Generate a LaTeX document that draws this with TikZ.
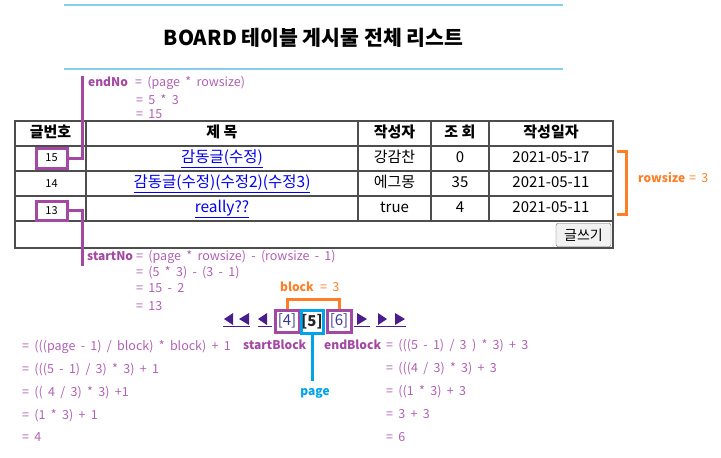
\documentclass[tikz,border=0pt]{standalone}
\usepackage{fontspec}
\setmainfont{Noto Sans CJK KR}
\newfontfamily\formfont[WordSpace=1.9]{Noto Sans CJK KR}
\definecolor{ppl}{HTML}{A349A4}
\definecolor{pplt}{HTML}{B060B4}
\definecolor{org}{HTML}{FF7F27}
\definecolor{sky}{HTML}{00A2E8}
\definecolor{ttl}{HTML}{87CEEB}
\definecolor{gridc}{HTML}{4D4D4D}
\definecolor{lnk}{HTML}{0000EE}
\definecolor{nav}{HTML}{4B1C8C}
\definecolor{pnum}{HTML}{3A3A8C}
\begin{document}
\begin{tikzpicture}[x=1pt,y=-1pt,
  ftxt/.style={font=\formfont\fontsize{12.5}{14}\selectfont, text=pplt, inner sep=0, anchor=west, text height=9pt, text depth=3pt},
  flbl/.style={font=\fontsize{12}{14}\selectfont\bfseries, text=ppl, inner sep=0, anchor=west, text height=9pt, text depth=3pt},
  cell/.style={font=\fontsize{15}{18}\selectfont, inner sep=0, text height=11pt, text depth=3pt},
  hcell/.style={cell, font=\fontsize{15}{18}\selectfont\bfseries},
  lcell/.style={cell, text=lnk, font=\fontsize{15.5}{18}\selectfont},
  pbox/.style={draw=ppl, line width=3pt, inner sep=0},
  pline/.style={ppl, line width=3pt},
  oline/.style={org, line width=3pt},
  bline/.style={sky, line width=3pt},
  gline/.style={gridc, line width=1.5pt},
  navtri/.style={fill=nav},
  navul/.style={nav, line width=1pt}
]
\useasboundingbox (0,0) rectangle (721,458);
% title
\draw[ttl, line width=2pt] (64,5) -- (563,5);
\draw[ttl, line width=2pt] (64,69) -- (563,69);
\node[font=\fontsize{20.5}{24}\selectfont\bfseries, inner sep=0] (title) at (313.5,38) {BOARD 테이블 게시물 전체 리스트};

% table grid
\draw[gline] (15,121) rectangle (613,248);
\draw[gline] (15,146) -- (613,146);
\draw[gline] (15,171) -- (613,171);
\draw[gline] (15,196) -- (613,196);
\draw[gline] (15,221) -- (613,221);
\foreach \cx in {86,358,431,489} { \draw[gline] (\cx,121) -- (\cx,221); }

% header
\node[hcell] (h1) at (50.5,133.5) {글번호};
\node[hcell] (h2) at (222,133.5) {제 목};
\node[hcell] (h3) at (394.5,133.5) {작성자};
\node[hcell] (h4) at (460,133.5) {조 회};
\node[hcell] (h5) at (551,133.5) {작성일자};
% rows
\node[pbox, minimum width=31pt, minimum height=20pt, font=\fontsize{11}{13}\selectfont] (b15) at (51.5,158) {15};
\node[lcell] (t1) at (222,158.5) {\underline{감동글(수정)}};
\node[cell] (w1) at (394.5,158.5) {강감찬};
\node[cell] (v1) at (460,158.5) {0};
\node[cell] (d1) at (551,158.5) {2021-05-17};

\node[font=\fontsize{11}{13}\selectfont, inner sep=0] (n14) at (51.5,183.5) {14};
\node[lcell] (t2) at (222,183.5) {\underline{감동글(수정)(수정2)(수정3)}};
\node[cell] (w2) at (394.5,183.5) {에그몽};
\node[cell] (v2) at (460,183.5) {35};
\node[cell] (d2) at (551,183.5) {2021-05-11};

\node[pbox, minimum width=31pt, minimum height=19pt, font=\fontsize{11}{13}\selectfont] (b13) at (51.5,210.5) {13};
\node[lcell] (t3) at (222,208.5) {\underline{really??}};
\node[cell] (w3) at (394.5,208.5) {true};
\node[cell] (v3) at (460,208.5) {4};
\node[cell] (d3) at (551,208.5) {2021-05-11};

\node[draw=gray!75!black, fill=gray!10, rounded corners=2pt, minimum width=55pt, minimum height=23pt, inner sep=0, font=\fontsize{14}{16}\selectfont] (btn) at (583.5,235) {글쓰기};

% endNo
\coordinate (endtop) at (82,76);
\draw[pline] (b15.east) -| (endtop);
\node[flbl] (endNo) at (88,83) {endNo};
\node[ftxt] (endNo1) at (135,83) {= (page * rowsize)};
\node[ftxt] (endNo2) at (136,101) {= 5 * 3};
\node[ftxt] (endNo3) at (136,115) {= 15};

% startNo
\coordinate (startbot) at (82,266);
\draw[pline] (b13.east) -| (startbot);
\node[flbl] (startNo) at (87,257) {startNo};
\node[ftxt] (startNo1) at (136,257) {= (page * rowsize) - (rowsize - 1)};
\node[ftxt] (startNo2) at (136,273) {= (5 * 3) - (3 - 1)};
\node[ftxt] (startNo3) at (136,289) {= 15 - 2};
\node[ftxt] (startNo4) at (136,307) {= 13};

% rowsize bracket
\coordinate (rs1) at (617,151);
\coordinate (rs2) at (617,214);
\draw[oline] (rs1) -- (626,151) -- (626,214) -- (rs2);
\node[flbl, text=org] (rowsize) at (638,179) {rowsize};
\node[ftxt, text=org] (rowsizev) at (689,179) {= 3};

% pager
\fill[navtri] (224,319) -- (233,313) -- (233,325) -- cycle;
\fill[navtri] (239,319) -- (249,313) -- (249,325) -- cycle;
\draw[navul] (223,326) -- (250,326);
\fill[navtri] (258,319) -- (267,313) -- (267,325) -- cycle;
\draw[navul] (258,326) -- (272,326);
\node[pbox, minimum width=24pt, minimum height=22pt, font=\fontsize{15}{18}\selectfont, text=pnum] (p4) at (287,321) {[4]};
\node[draw=sky, line width=3pt, inner sep=0, minimum width=22pt, minimum height=23pt, font=\fontsize{15}{18}\selectfont\bfseries, text=black!85] (p5) at (312,321.5) {[5]};
\node[pbox, minimum width=24pt, minimum height=22pt, font=\fontsize{15}{18}\selectfont, text=pnum] (p6) at (339,321) {[6]};
\fill[navtri] (367,319) -- (357,313) -- (357,325) -- cycle;
\draw[navul] (354,326) -- (370,326);
\fill[navtri] (387,319) -- (378,313) -- (378,325) -- cycle;
\fill[navtri] (405,319) -- (395,313) -- (395,325) -- cycle;
\draw[navul] (376,326) -- (406,326);

% block bracket
\draw[oline] (p4.north) -- ++(0,-9) -| (p6.north);
\node[flbl, text=org] (block) at (280,288) {block};
\node[ftxt, text=org] (blockv) at (320,288) {= 3};

% page
\node[font=\fontsize{12}{14}\selectfont\bfseries, text=sky, inner sep=0, text height=9pt, text depth=3pt] (page) at (315,392) {page};
\draw[bline] (p5.south) -- (312,381);

% startBlock
\node[flbl] (startBlock) at (243,346) {startBlock};
\node[ftxt] (sb1) at (22,347) {= (((page - 1) / block) * block) + 1};
\node[ftxt] (sb2) at (22,370) {= (((5 - 1) / 3) * 3) + 1};
\node[ftxt] (sb3) at (22,393) {= (( 4 / 3) * 3) +1};
\node[ftxt] (sb4) at (22,416) {= (1 * 3) + 1};
\node[ftxt] (sb5) at (22,438) {= 4};

% endBlock
\node[flbl] (endBlock) at (324,346) {endBlock};
\node[ftxt] (eb1) at (386,346) {= (((5 - 1) / 3 ) * 3) + 3};
\node[ftxt] (eb2) at (386,369) {= (((4 / 3) * 3) + 3};
\node[ftxt] (eb3) at (386,392) {= ((1 * 3) + 3};
\node[ftxt] (eb4) at (386,415) {= 3 + 3};
\node[ftxt] (eb5) at (386,438) {= 6};
\end{tikzpicture}
\end{document}
